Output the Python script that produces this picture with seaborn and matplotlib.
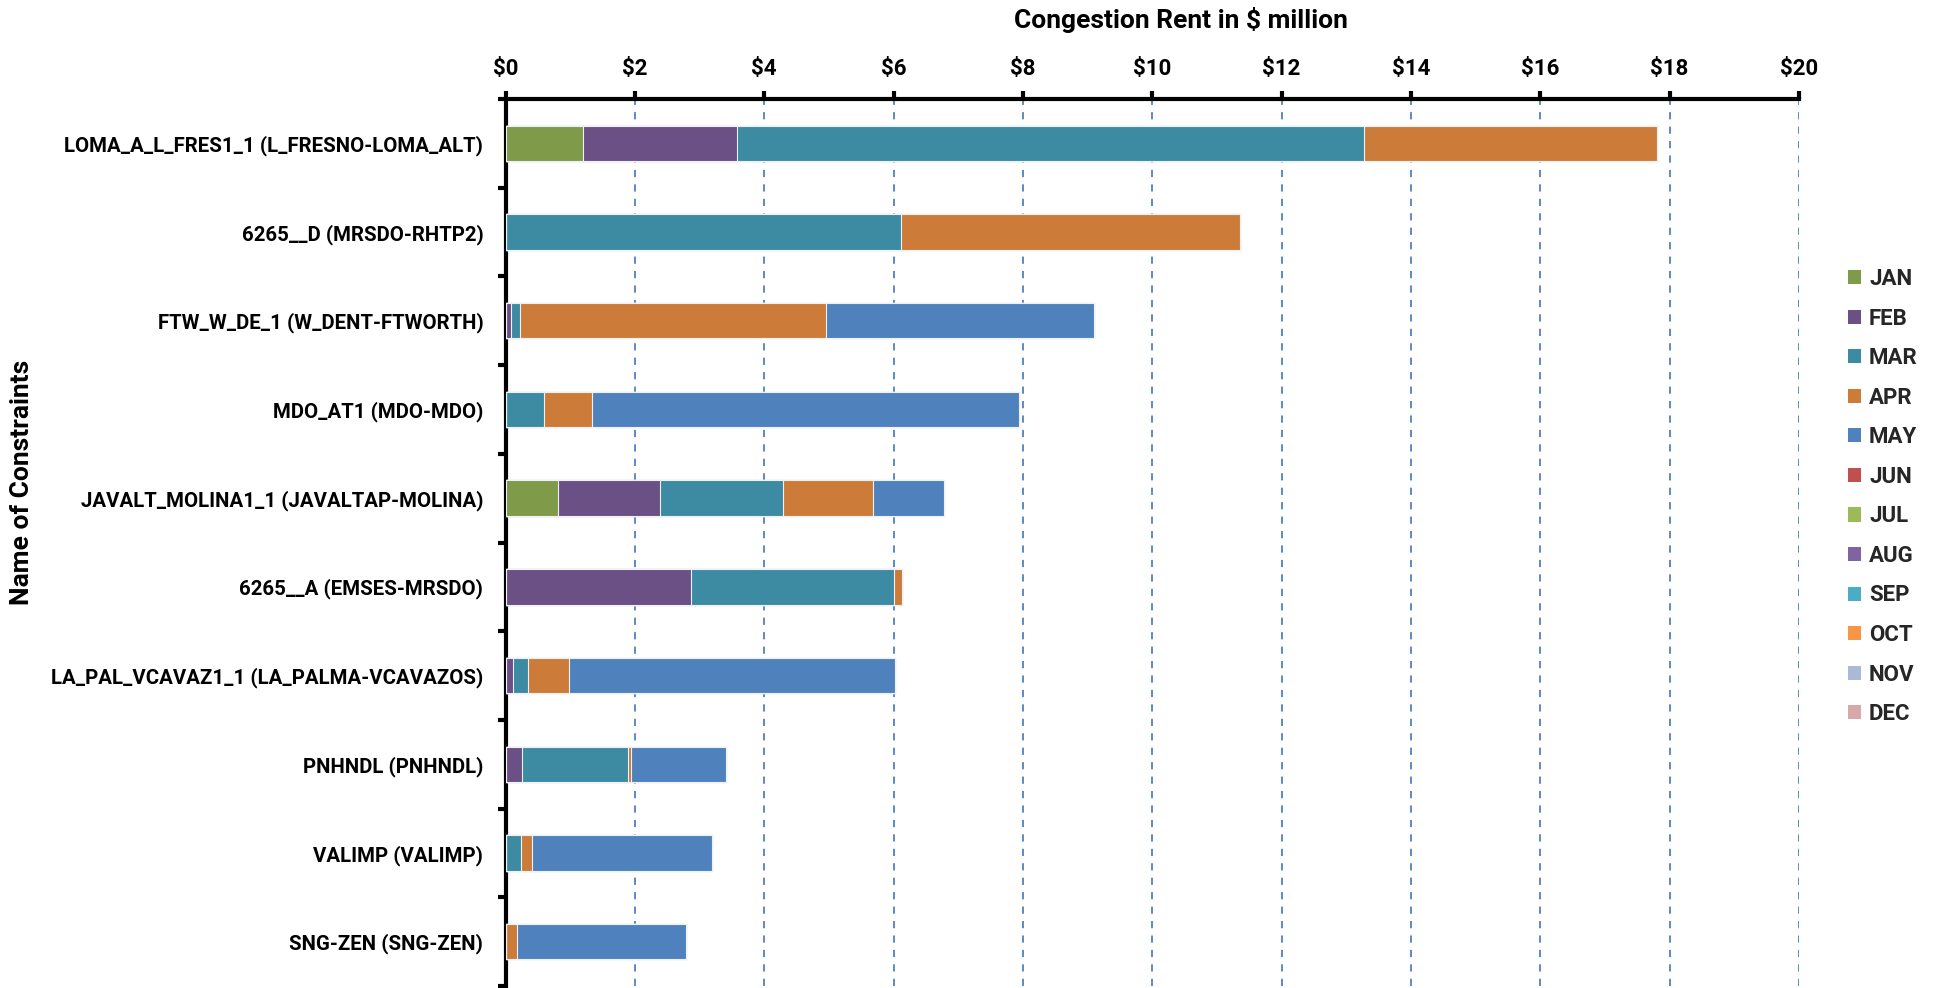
import numpy as np
import pandas as pd
import matplotlib
matplotlib.use("Agg")
import matplotlib.pyplot as plt
from matplotlib.patches import Patch
from matplotlib.ticker import FixedLocator, FuncFormatter
import seaborn as sns

constraints = [
    "LOMA_A_L_FRES1_1 (L_FRESNO-LOMA_ALT)",
    "6265__D (MRSDO-RHTP2)",
    "FTW_W_DE_1 (W_DENT-FTWORTH)",
    "MDO_AT1 (MDO-MDO)",
    "JAVALT_MOLINA1_1 (JAVALTAP-MOLINA)",
    "6265__A (EMSES-MRSDO)",
    "LA_PAL_VCAVAZ1_1 (LA_PALMA-VCAVAZOS)",
    "PNHNDL (PNHNDL)",
    "VALIMP (VALIMP)",
    "SNG-ZEN (SNG-ZEN)",
]
months = ["JAN", "FEB", "MAR", "APR", "MAY", "JUN", "JUL", "AUG", "SEP", "OCT", "NOV", "DEC"]

jan = [1.19, 0.00, 0.00, 0.00, 0.81, 0.00, 0.00, 0.00, 0.00, 0.00]
feb = [2.39, 0.00, 0.08, 0.00, 1.58, 2.87, 0.12, 0.26, 0.00, 0.00]
mar = [9.70, 6.11, 0.15, 0.59, 1.90, 3.14, 0.23, 1.64, 0.24, 0.00]
apr = [4.53, 5.24, 4.72, 0.74, 1.39, 0.12, 0.63, 0.04, 0.17, 0.17]
may = [0.00, 0.00, 4.15, 6.61, 1.10, 0.00, 5.05, 1.47, 2.78, 2.62]
jun = [0.0] * 10
jul = [0.0] * 10
aug = [0.0] * 10
sep = [0.0] * 10
oct_ = [0.0] * 10
nov = [0.0] * 10
dec = [0.0] * 10

xticks = [0, 2, 4, 6, 8, 10, 12, 14, 16, 18, 20]

colors = ["#7F9A48", "#6A5085", "#3C8BA3", "#CC7B38", "#4F81BD", "#C0504D",
          "#9BBB59", "#8064A2", "#4BACC6", "#F79646", "#A9B9D6", "#D9A9AA"]

series = [jan, feb, mar, apr, may, jun, jul, aug, sep, oct_, nov, dec]
df = pd.DataFrame({m: s for m, s in zip(months, series)}, index=constraints)
cum = df.cumsum(axis=1)

sns.set_theme(style="white")
plt.rcParams["font.family"] = ["Roboto", "DejaVu Sans"]
plt.rcParams["font.weight"] = "bold"

fig = plt.figure(figsize=(19.37, 9.88), dpi=100)
ax = fig.add_axes([0.261, 0.002, 0.9287 - 0.261, 0.8998 - 0.002])

# draw cumulative totals from last month to first so segments appear stacked
for m, c in reversed(list(zip(months, colors))):
    d = pd.DataFrame({"name": constraints, "value": cum[m].values})
    sns.barplot(data=d, x="value", y="name", orient="h", color=c, width=0.40,
                saturation=1, edgecolor="#EEF2F7", linewidth=0.8, ax=ax, zorder=3)

ax.set_xlim(0, 20)
ax.set_ylim(9.5, -0.5)
ax.xaxis.set_major_locator(FixedLocator(xticks))
ax.xaxis.set_major_formatter(FuncFormatter(lambda v, p: f"${int(v)}"))
ax.xaxis.tick_top()
ax.xaxis.set_label_position("top")
ax.set_xlabel("")
ax.set_ylabel("")

ax.grid(False)
ax.set_axisbelow(True)
for xv in xticks[1:]:
    ax.axvline(xv, color="#4F81BD", linestyle=(0, (4, 4)), linewidth=1.3, zorder=1)

for s in ["bottom", "right"]:
    ax.spines[s].set_visible(False)
for s in ["top", "left"]:
    ax.spines[s].set_visible(True)
    ax.spines[s].set_color("black")
    ax.spines[s].set_linewidth(3)

ax.tick_params(axis="x", which="major", direction="out", length=6, width=3,
               color="black", top=True, bottom=False, labeltop=True,
               labelbottom=False, labelsize=16, pad=8)
ax.yaxis.set_minor_locator(FixedLocator(np.arange(-0.5, 10, 1.0)))
ax.tick_params(axis="y", which="major", length=0, pad=16, labelsize=14.7)
ax.tick_params(axis="y", which="minor", direction="out", length=6, width=3,
               color="black", left=True)
for lbl in ax.get_xticklabels() + ax.get_yticklabels():
    lbl.set_fontweight("bold")
    lbl.set_color("black")

fig.text(1181 / 1937, 1 - 20 / 988, "Congestion Rent in $ million",
         ha="center", va="center", fontsize=19, fontweight="bold", color="black")
fig.text(22 / 1937, 1 - 482 / 988, "Name of Constraints", rotation=90,
         ha="center", va="center", fontsize=19, fontweight="bold", color="black")

handles = [Patch(facecolor=c, edgecolor="none", label=m) for m, c in zip(months, colors)]
fig.legend(handles=handles, loc="upper left", bbox_to_anchor=(1848 / 1937, 1 - 268 / 988),
           frameon=False, handlelength=0.6, handleheight=0.6,
           handletextpad=0.35, labelspacing=0.79, borderaxespad=0, borderpad=0,
           prop={"weight": "bold", "size": 16})

fig.savefig("out.png", dpi=100)
